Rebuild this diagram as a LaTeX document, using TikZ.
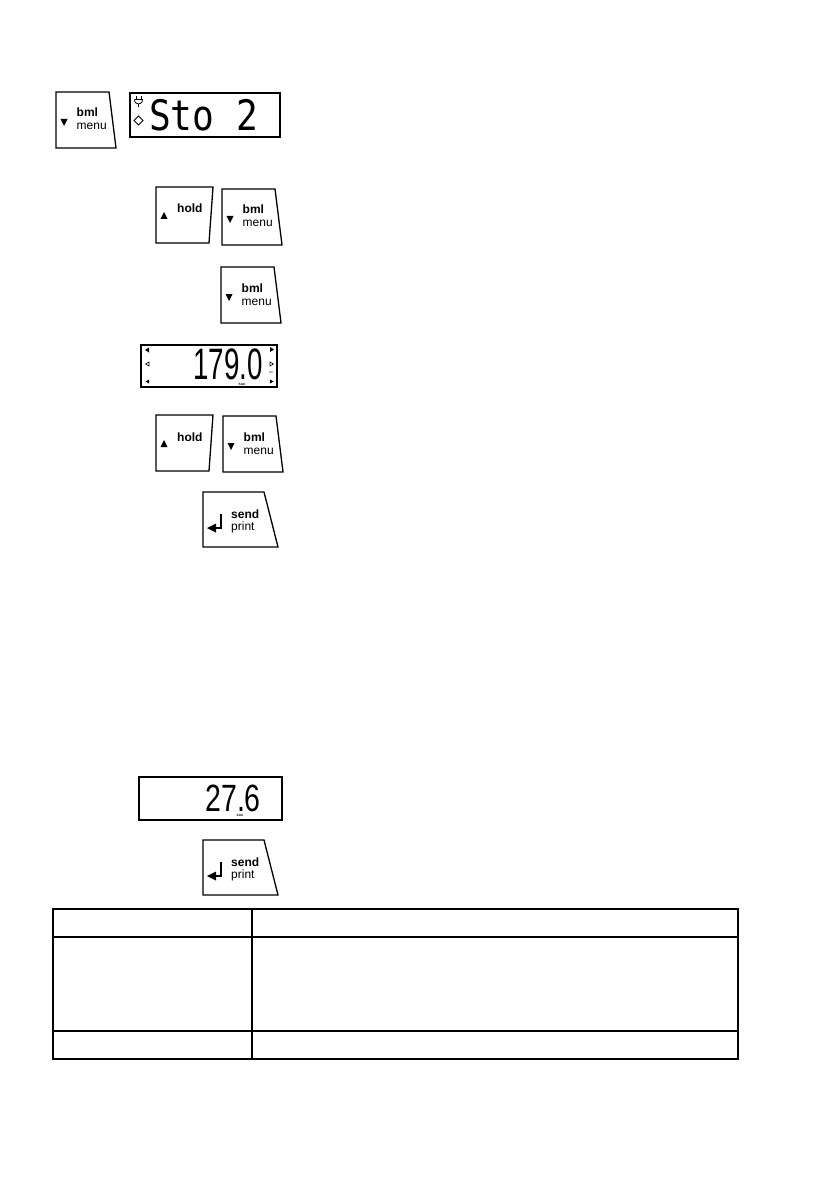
\documentclass[tikz,border=0pt]{standalone}
\usepackage{fontspec}
\newfontfamily\keyfont{Liberation Sans}
\newfontfamily\lcdfont{Liberation Sans}
\newfontfamily\monolcd{DejaVu Sans Mono}
\tikzset{
  keyline/.style={draw, line width=1.3pt, line join=miter},
  dispbox/.style={draw, line width=1.6pt},
  tabline/.style={draw, line width=1.2pt},
  lbl/.style={anchor=base west, inner sep=0pt, font=\keyfont\fontsize{12}{12}\selectfont},
  lblb/.style={lbl, font=\keyfont\bfseries\fontsize{12}{12}\selectfont},
  tiny/.style={inner sep=0pt, font=\keyfont\bfseries\fontsize{3.2}{3.2}\selectfont},
}
\newcommand\nodepth[1]{\raisebox{0pt}[\height][0pt]{#1}}
% down key: name, x, y (top-left)
\newcommand\downkey[3]{%
  \draw[keyline] (#2,#3) -- ++(53,0) -- ++(7,56) -- ++(-60,0) -- cycle;
  \fill (#2+4.5,#3+27) -- ++(7,0) -- ++(-3.5,7) -- cycle;
  \node[lblb] (#1b) at (#2+20.5,#3+25) {bml};
  \node[lbl] (#1m) at (#2+20.5,#3+38) {menu};
}
% up key (hold): name, x, y
\newcommand\upkey[3]{%
  \draw[keyline] (#2,#3) -- ++(57,0) -- ++(-4,56) -- ++(-53,0) -- cycle;
  \fill (#2+4.5,#3+32) -- ++(7,0) -- ++(-3.5,-7) -- cycle;
  \node[lblb] (#1h) at (#2+21,#3+26) {hold};
}
% send key: name, x, y
\newcommand\sendkey[3]{%
  \draw[keyline] (#2,#3) -- ++(61,0) -- ++(14,55) -- ++(-75,0) -- cycle;
  \draw[line width=1.3pt] (#2+18,#3+22) -- (#2+18,#3+36) -- (#2+11,#3+36);
  \fill (#2+4,#3+36) -- ++(9,-4.5) -- ++(0,9) -- cycle;
  \node[lblb] (#1s) at (#2+28,#3+26) {send};
  \node[lbl] (#1p) at (#2+28,#3+38) {print};
}
\begin{document}
\begin{tikzpicture}[x=1pt,y=-1pt]
\useasboundingbox (0,0) rectangle (838,1190);

% Row 1: bml key + Sto 2 display
\downkey{ka}{56}{92}
\draw[dispbox] (130,93) rectangle (280,137);
\node[anchor=base west, inner sep=0pt, xscale=0.86,
      font=\monolcd\fontsize{42}{42}\selectfont] (sto) at (149,131) {\nodepth{Sto 2}};
% plug symbol
\draw[line width=0.8pt] (136,96.5) -- (136,99.5) (141,96.5) -- (141,99.5);
\draw[line width=0.8pt] (134.5,99.5) -- (142.5,99.5) .. controls (142.5,103) and (140,104) .. (138.5,104)
   .. controls (137,104) and (134.5,103) .. (134.5,99.5);
\draw[line width=0.8pt] (138.5,104) -- (138.5,107);
\draw[line width=0.8pt] (138.5,116) -- (143,120.5) -- (138.5,125) -- (134,120.5) -- cycle;

% Row 2: hold + bml
\upkey{kb}{156}{187}
\downkey{kc}{222}{189}

% Row 3: bml
\downkey{kd}{221}{267}

% Row 4: 179.0 display
\draw[dispbox] (141,345) rectangle (277,387);
\node[anchor=base east, inner sep=0pt, xscale=0.63,
      font=\lcdfont\fontsize{44}{44}\selectfont] (d179) at (263,379) {\nodepth{179.0}};
\node[tiny] (sau1) at (242,384) {SAU};
\node[tiny, font=\keyfont\fontsize{3}{3}\selectfont] (cm1) at (271,373) {cm};
\fill (149,347.5) -- ++(0,5) -- ++(-4,-2.5) -- cycle;
\draw[line width=0.6pt] (149,362) -- ++(0,4) -- ++(-3.5,-2) -- cycle;
\fill (149,379.5) -- ++(0,4) -- ++(-3.5,-2) -- cycle;
\fill (270,347) -- ++(0,5) -- ++(4,-2.5) -- cycle;
\draw[line width=0.6pt] (270,362) -- ++(0,4) -- ++(3.5,-2) -- cycle;
\fill (270,379.5) -- ++(0,4) -- ++(3.5,-2) -- cycle;

% Row 5: hold + bml
\upkey{ke}{156}{415}
\downkey{kf}{223}{416}

% Row 6: send
\sendkey{kg}{203}{492}

% Row 7: 27.6 display
\draw[dispbox] (139,777) rectangle (282,820);
\node[anchor=base east, inner sep=0pt, xscale=0.75,
      font=\lcdfont\fontsize{38}{38}\selectfont] (d276) at (261,811) {\nodepth{27.6}};
\node[tiny] (sau2) at (240,815.5) {SAU};

% Row 8: send
\sendkey{kh}{203}{840}

% Table
\draw[tabline] (53,909) rectangle (738,1059);
\draw[tabline] (53,937) -- (738,937);
\draw[tabline] (53,1031) -- (738,1031);
\draw[tabline] (252,909) -- (252,1059);
\end{tikzpicture}
\end{document}
